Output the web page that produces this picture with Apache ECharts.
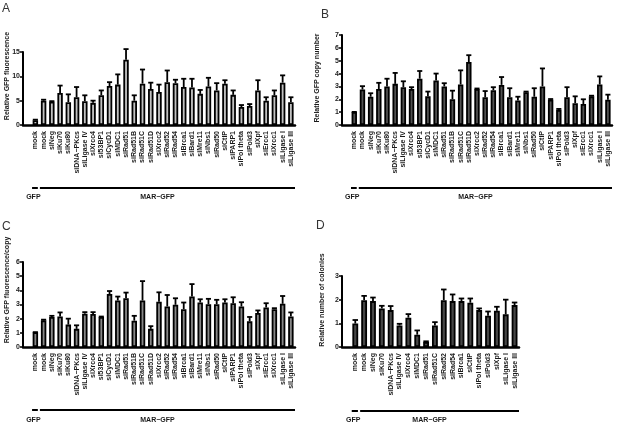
<!DOCTYPE html>
<html>
<head>
<meta charset="utf-8">
<script src="https://cdn.jsdelivr.net/npm/echarts@6/dist/echarts.min.js"></script>
<style>
html,body{margin:0;padding:0;background:#fff;}
#chart{width:617px;height:423px;}
</style>
</head>
<body>
<div id="chart"></div>
<script>
// ---- data ----
const catsABC = ['mock','mock','siNeg','siKu70','siKu80','siDNA\u2212PKcs','siLigase IV','siXrcc4','si53BP1','siCycD1','siMDC1','siRad51','siRad51B','siRad51C','siRad51D','siXrcc2','siRad52','siRad54','siBrca1','siBard1','siMre11','siNbs1','siRad50','siCtIP','siPARP1','siPol theta','siPold3','siXpf','siErcc1','siXrcc1','siLigase I','siLigase III'];
const catsD = ['mock','mock','siNeg','siKu70','siDNA\u2212PKcs','siLigase IV','siXrcc4','siMDC1','siRad51','siRad51C','siRad52','siRad54','siBrca1','siCtIP','siPol theta','siPold3','siXpf','siLigase I','siLigase III'];

const fluorMean = [1.0,5.0,4.8,6.6,4.7,5.7,4.9,4.55,6.1,8.0,8.3,13.4,5.0,8.5,7.4,6.8,8.8,8.6,7.8,7.7,6.4,7.9,7.1,8.5,6.2,3.7,3.9,7.1,5.0,6.1,8.7,4.7];
const fluorErr  = [0.1,0.2,0.1,1.5,1.6,2.1,1.2,0.45,1.0,0.8,2.1,2.2,1.1,2.9,1.3,1.5,2.4,0.7,1.7,1.8,0.8,1.8,1.5,0.7,0.9,0.4,0.4,2.1,0.7,1.0,1.5,1.0];

const copyMean = [1.02,2.76,2.2,2.8,3.0,3.2,2.94,2.8,3.6,2.23,3.46,3.0,2.0,3.15,4.9,2.8,2.16,2.7,3.12,2.16,1.9,2.55,2.2,3.0,1.97,1.18,2.16,1.7,1.63,2.23,3.15,1.97];
const copyErr  = [0.0,0.26,0.27,0.48,0.6,0.85,0.46,0.14,0.6,0.37,0.54,0.25,0.67,1.1,0.53,0.04,0.48,0.24,0.61,0.7,0.3,0.05,0.66,1.4,0.05,0.07,0.78,0.53,0.37,0.05,0.63,0.39];

const ratioMean = [1.05,1.88,2.12,2.16,1.58,1.28,2.35,2.33,2.12,3.74,3.28,3.44,1.86,3.28,1.28,3.2,2.86,2.98,2.67,3.56,3.14,3.02,3.02,3.14,3.09,2.86,1.81,2.4,2.79,2.67,3.05,2.16];
const ratioErr  = [0.0,0.05,0.08,0.28,0.42,0.25,0.11,0.13,0.03,0.21,0.28,0.4,0.34,1.37,0.19,0.66,0.81,0.46,0.47,0.88,0.23,0.38,0.31,0.23,0.42,0.3,0.31,0.18,0.3,0.07,0.55,0.28];

const colonyMean = [0.99,1.98,1.94,1.63,1.56,0.91,1.24,0.52,0.21,0.91,1.98,1.94,1.94,1.87,1.56,1.32,1.53,1.38,1.77];
const colonyErr  = [0.15,0.18,0.15,0.11,0.17,0.07,0.15,0.18,0.03,0.14,0.45,0.28,0.11,0.18,0.07,0.18,0.17,0.62,0.11];

const yTicksA = [0,5,10,15];
const yTicksB = [0,1,2,3,4,5,6,7];
const yTicksC = [0,1,2,3,4,5,6];
const yTicksD = [0,1,2,3];

const panelLetters = ['A','B','C','D'];
const yTitles = ['Relative GFP fluorescence','Relative GFP copy number','Relative GFP fluorescence/copy','Relative number of colonies'];
const groupNames = ['GFP','MAR\u2212GFP'];

// ---- layout ----
const FONT = '"Liberation Sans", Arial, Helvetica, sans-serif';
const panels = [
  {cats: catsABC, mean: fluorMean, err: fluorErr, ticks: yTicksA, color: '#c2c2c2', grid: {left: 23, top: 52, width: 272, height: 73}, lineY: 188, textY: 197, title: {x: 7, y: 76}, letter: {x: 2, y: 3}},
  {cats: catsABC, mean: copyMean, err: copyErr, ticks: yTicksB, color: '#525252', grid: {left: 342, top: 35, width: 270, height: 90}, lineY: 188, textY: 197, title: {x: 317, y: 78}, letter: {x: 321, y: 9}},
  {cats: catsABC, mean: ratioMean, err: ratioErr, ticks: yTicksC, color: '#878787', grid: {left: 23, top: 262, width: 272, height: 85}, lineY: 410, textY: 420, title: {x: 7, y: 290}, letter: {x: 2, y: 221}},
  {cats: catsD, mean: colonyMean, err: colonyErr, ticks: yTicksD, color: '#464646', grid: {left: 342, top: 276, width: 177, height: 71}, lineY: 411, textY: 420, title: {x: 322, y: 300}, letter: {x: 316, y: 220}}
];

const chart = echarts.init(document.getElementById('chart'), null, {renderer: 'canvas'});

const grids = [], xAxes = [], yAxes = [], series = [];
panels.forEach((p, k) => {
  grids.push(Object.assign({containLabel: false}, p.grid));
  xAxes.push({
    type: 'category', gridIndex: k,
    data: [''].concat(p.cats),
    boundaryGap: true,
    axisLine: {show: true, onZero: false, lineStyle: {color: '#000', width: 2.5}},
    axisTick: {show: false},
    axisLabel: {interval: 0, rotate: 90, fontSize: 7, fontWeight: 'bold', fontFamily: FONT, color: '#1a1a1a', margin: 6}
  });
  const t = p.ticks;
  yAxes.push({
    type: 'value', gridIndex: k,
    min: t[0], max: t[t.length - 1], interval: t[1] - t[0],
    axisLine: {show: true, lineStyle: {color: '#000', width: 2}},
    axisTick: {show: true, length: 3, lineStyle: {color: '#000', width: 1.5}},
    axisLabel: {fontSize: 7, fontWeight: 'bold', fontFamily: FONT, color: '#1a1a1a', margin: 3},
    splitLine: {show: false}
  });
  series.push({
    type: 'bar', xAxisIndex: k, yAxisIndex: k,
    data: ['-'].concat(p.mean),
    barWidth: '66%',
    itemStyle: {color: p.color, borderColor: '#000', borderWidth: 1.8},
    silent: true, animation: false, z: 2
  });
  series.push({
    type: 'custom', xAxisIndex: k, yAxisIndex: k,
    data: p.mean.map((m, i) => [i + 1, m, m + p.err[i]]),
    encode: {x: 0, y: [1, 2]},
    renderItem: function (params, api) {
      const xi = api.value(0);
      const lo = api.coord([xi, api.value(1)]);
      const hi = api.coord([xi, api.value(2)]);
      const w = api.size([1, 0])[0] * 0.62;
      const st = {stroke: '#000', lineWidth: 1.8};
      return {type: 'group', children: [
        {type: 'line', shape: {x1: lo[0], y1: lo[1], x2: hi[0], y2: hi[1]}, style: st},
        {type: 'line', shape: {x1: hi[0] - w / 2, y1: hi[1], x2: hi[0] + w / 2, y2: hi[1]}, style: st}
      ]};
    },
    silent: true, animation: false, z: 3
  });
});

chart.setOption({
  animation: false,
  backgroundColor: '#fff',
  grid: grids, xAxis: xAxes, yAxis: yAxes, series: series
});

// ---- annotations: panel letters, axis titles, group lines ----
const graphics = [];
panels.forEach((p, k) => {
  graphics.push({type: 'text', left: p.letter.x, top: p.letter.y, style: {text: panelLetters[k], font: '12px ' + FONT, fill: '#333'}});
  graphics.push({type: 'text', x: p.title.x, y: p.title.y, rotation: Math.PI / 2,
    style: {text: yTitles[k], font: 'bold 7px ' + FONT, fill: '#1a1a1a', align: 'center', verticalAlign: 'middle', textAlign: 'center', textVerticalAlign: 'middle'}});
  const n = p.cats.length;
  const c1 = chart.convertToPixel({xAxisIndex: k}, 1);
  const c2 = chart.convertToPixel({xAxisIndex: k}, 2);
  const cN = chart.convertToPixel({xAxisIndex: k}, n);
  const slot = c2 - c1;
  const ranges = [[c1 - slot * 0.4, c1 + slot * 0.3], [c2 - slot * 0.45, cN + slot * 0.5]];
  ranges.forEach((r) => {
    graphics.push({type: 'line', shape: {x1: r[0], y1: p.lineY, x2: r[1], y2: p.lineY}, style: {stroke: '#000', lineWidth: 2}});
  });
  graphics.push({type: 'text', x: c1 - 2, y: p.textY, style: {text: groupNames[0], font: 'bold 7px ' + FONT, fill: '#1a1a1a', align: 'center', verticalAlign: 'middle', textAlign: 'center', textVerticalAlign: 'middle'}});
  graphics.push({type: 'text', x: (ranges[1][0] + ranges[1][1]) / 2 - 10, y: p.textY, style: {text: groupNames[1], font: 'bold 7px ' + FONT, fill: '#1a1a1a', align: 'center', verticalAlign: 'middle', textAlign: 'center', textVerticalAlign: 'middle'}});
});
chart.setOption({graphic: graphics});
</script>
</body>
</html>
